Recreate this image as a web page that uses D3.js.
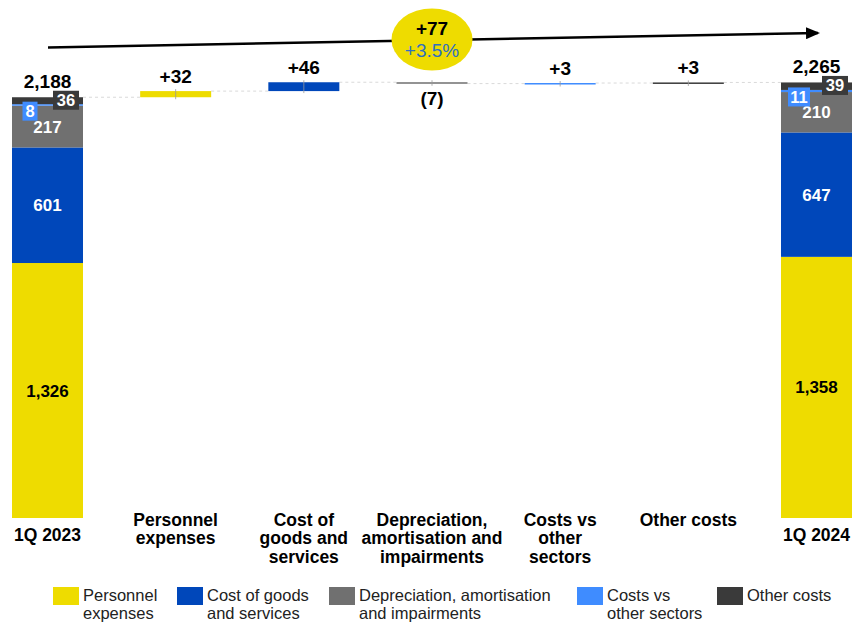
<!DOCTYPE html>
<html>
<head>
<meta charset="utf-8">
<script src="https://cdn.jsdelivr.net/npm/d3@7"></script>
<style>
  body { margin: 0; background: #fff; }
  text { font-family: "Liberation Sans", Arial, sans-serif; }
</style>
</head>
<body>
<div id="chart"></div>
<script>
// categories along the x axis
var categories = ["1Q 2023", "Personnel expenses", "Cost of goods and services",
  "Depreciation, amortisation and impairments", "Costs vs other sectors", "Other costs", "1Q 2024"];
var categoryLines = [["1Q 2023"], ["Personnel", "expenses"], ["Cost of", "goods and", "services"],
  ["Depreciation,", "amortisation and", "impairments"], ["Costs vs", "other", "sectors"], ["Other costs"], ["1Q 2024"]];

// stacked components of the two totals
var components = ["Personnel expenses", "Cost of goods and services",
  "Depreciation, amortisation and impairments", "Costs vs other sectors", "Other costs"];
var values2023 = [1326, 601, 217, 8, 36];
var values2024 = [1358, 647, 210, 11, 39];
var totals = [2188, 2265];

// bridge deltas
var deltas = [32, 46, -7, 3, 3];
var deltaLabels = ["+32", "+46", "(7)", "+3", "+3"];

var legendLines = [["Personnel", "expenses"], ["Cost of goods", "and services"],
  ["Depreciation, amortisation", "and impairments"], ["Costs vs", "other sectors"], ["Other costs"]];
var totalChange = "+77";
var totalChangePct = "+3.5%";

var colors = ["#EEDC00", "#0047BA", "#707070", "#3F8CFF", "#3A3A3A"];

var width = 852;
var height = 623;

var svg = d3.select("#chart")
  .append("svg")
    .attr("width", width)
    .attr("height", height);

var x = d3.scalePoint()
  .domain(categories)
  .range([47.5, 816.5]);
var barW = 71;

var y = d3.scaleLinear()
  .domain([0, 2300])
  .range([518, 518 - 2300 * 0.1923]);

function fmt(v) { return d3.format(",")(v); }

// build waterfall steps
var steps = [];
var run = totals[0];
deltas.forEach(function (d, i) {
  steps.push({cat: categories[i + 1], start: run, end: run + d, color: colors[i], label: deltaLabels[i], neg: d < 0});
  run += d;
});

// connector lines (faint dashed)
var levels = [totals[0]].concat(steps.map(function (s) { return s.end; }));
var connectors = svg.append("g")
  .attr("stroke", "#d9d9d9")
  .attr("stroke-width", 1)
  .attr("stroke-dasharray", "3 3");
levels.forEach(function (lv, i) {
  connectors.append("line")
    .attr("x1", x(categories[i]) + barW / 2)
    .attr("x2", x(categories[i + 1]) - barW / 2)
    .attr("y1", y(lv))
    .attr("y2", y(lv));
});

// stacked total bars
function stack(vals) {
  var acc = 0;
  return vals.map(function (v, i) {
    var s = {y0: acc, y1: acc + v, value: v, color: colors[i], idx: i};
    acc += v;
    return s;
  });
}

[[categories[0], values2023, totals[0]], [categories[6], values2024, totals[1]]].forEach(function (b) {
  var cx = x(b[0]);
  var segs = stack(b[1]);
  var g = svg.append("g");
  g.selectAll("rect")
    .data(segs)
    .enter()
    .append("rect")
      .attr("x", cx - barW / 2)
      .attr("width", barW)
      .attr("y", function (d) { return y(d.y1); })
      .attr("height", function (d) { return y(d.y0) - y(d.y1); })
      .attr("fill", function (d) { return d.color; });

  // big segment labels
  segs.slice(0, 3).forEach(function (d) {
    g.append("text")
      .attr("x", cx)
      .attr("y", (y(d.y0) + y(d.y1)) / 2 + 6)
      .attr("text-anchor", "middle")
      .attr("font-size", 17)
      .attr("font-weight", "bold")
      .attr("fill", d.idx === 0 ? "#000" : "#fff")
      .text(fmt(d.value));
  });

  // small labels in boxes
  var s3 = segs[3], s4 = segs[4];
  var boxes = [
    {cx: cx - barW / 2 + 18, cy: y(s3.y1) + 7, w: s3.value > 9 ? 22 : 15, color: colors[3], text: fmt(s3.value)},
    {cx: cx + barW / 2 - 17, cy: y(s4.y1) + 3, w: 26, color: colors[4], text: fmt(s4.value)}
  ];
  boxes.forEach(function (bx) {
    g.append("rect")
      .attr("x", bx.cx - bx.w / 2)
      .attr("y", bx.cy - 9.5)
      .attr("width", bx.w)
      .attr("height", 19)
      .attr("fill", bx.color);
    g.append("text")
      .attr("x", bx.cx)
      .attr("y", bx.cy + 6)
      .attr("text-anchor", "middle")
      .attr("font-size", 16.5)
      .attr("font-weight", "bold")
      .attr("fill", "#fff")
      .text(bx.text);
  });

  // total label
  g.append("text")
    .attr("x", cx)
    .attr("y", y(b[2]) - 9)
    .attr("text-anchor", "middle")
    .attr("font-size", 19)
    .attr("font-weight", "bold")
    .attr("fill", "#000")
    .text(fmt(b[2]));
});

// floating delta bars
var fl = svg.append("g");
steps.forEach(function (s) {
  var cx = x(s.cat);
  var top = y(Math.max(s.start, s.end));
  var h = Math.max(Math.abs(y(s.start) - y(s.end)), 1.5);
  fl.append("rect")
    .attr("x", cx - barW / 2)
    .attr("width", barW)
    .attr("y", top)
    .attr("height", h)
    .attr("fill", s.color);
  fl.append("line")
    .attr("x1", cx).attr("x2", cx)
    .attr("y1", top - 2).attr("y2", top + h + 2)
    .attr("stroke", "#999")
    .attr("stroke-width", 0.8);
  fl.append("text")
    .attr("x", cx)
    .attr("y", s.neg ? top + h + 21 : top - 8)
    .attr("text-anchor", "middle")
    .attr("font-size", 19)
    .attr("font-weight", "bold")
    .attr("fill", "#000")
    .text(s.label);
});

// category labels
var cl = svg.append("g");
categories.forEach(function (c, i) {
  var lines = categoryLines[i];
  var t = cl.append("text")
    .attr("x", x(c))
    .attr("text-anchor", "middle")
    .attr("font-size", 17.5)
    .attr("font-weight", "bold")
    .attr("fill", "#000");
  var y0 = (i === 0 || i === 6) ? 541 : 525.5;
  lines.forEach(function (ln, j) {
    t.append("tspan")
      .attr("x", x(c))
      .attr("y", y0 + j * 18.5)
      .text(ln);
  });
});

// growth arrow
svg.append("defs")
  .append("marker")
    .attr("id", "arrowhead")
    .attr("markerUnits", "userSpaceOnUse")
    .attr("markerWidth", 14)
    .attr("markerHeight", 12)
    .attr("refX", 12)
    .attr("refY", 6)
    .attr("orient", "auto")
  .append("path")
    .attr("d", "M 0 0 L 14 6 L 0 12 Z")
    .attr("fill", "#000");

svg.append("line")
  .attr("x1", 48).attr("y1", 47.5)
  .attr("x2", 818).attr("y2", 33)
  .attr("stroke", "#000")
  .attr("stroke-width", 2.5)
  .attr("marker-end", "url(#arrowhead)");

svg.append("ellipse")
  .attr("cx", 432)
  .attr("cy", 39.5)
  .attr("rx", 40.5)
  .attr("ry", 31)
  .attr("fill", colors[0]);
svg.append("text")
  .attr("x", 432).attr("y", 35)
  .attr("text-anchor", "middle")
  .attr("font-size", 19)
  .attr("font-weight", "bold")
  .attr("fill", "#000")
  .text(totalChange);
svg.append("text")
  .attr("x", 432).attr("y", 57)
  .attr("text-anchor", "middle")
  .attr("font-size", 19)
  .attr("fill", "#2E6FC0")
  .text(totalChangePct);

// legend
var legendX = [53, 177, 329, 577, 717];
var lg = svg.append("g");
components.forEach(function (c, i) {
  lg.append("rect")
    .attr("x", legendX[i])
    .attr("y", 587)
    .attr("width", 26)
    .attr("height", 18)
    .attr("fill", colors[i]);
  var t = lg.append("text")
    .attr("font-size", 16.5)
    .attr("fill", "#222");
  legendLines[i].forEach(function (ln, j) {
    t.append("tspan")
      .attr("x", legendX[i] + 30)
      .attr("y", 601 + j * 17.5)
      .text(ln);
  });
});
</script>
</body>
</html>
